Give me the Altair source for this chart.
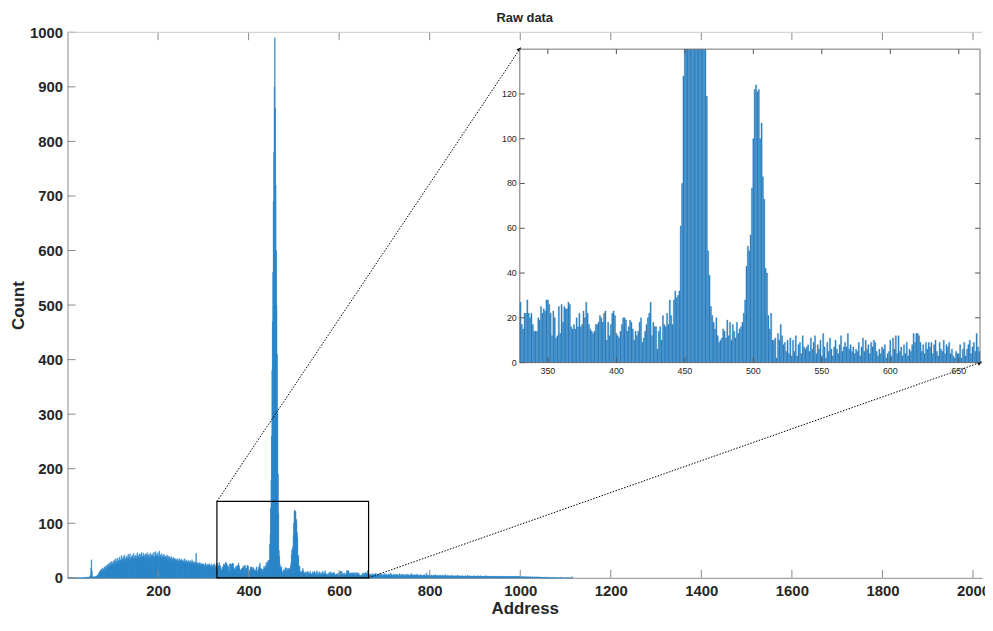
import math
import altair as alt
import pandas as pd

# ---------------- data ----------------
title_text = "Raw data"
x_title = "Address"
y_title = "Count"

counts_low_start = 1
counts_low = [
    0, 0, 0, 0, 0, 0, 0, 0, 0, 0,
    0, 0, 0, 0, 0, 0, 0, 0, 0, 0,
    0, 0, 0, 0, 0, 0, 0, 0, 0, 0,
    0, 0, 0, 0, 0, 1, 0, 0, 1, 0,
    1, 0, 1, 1, 0, 1, 1, 2, 1, 2,
    6, 18, 33, 12, 3, 1, 2, 1, 1, 2,
    1, 2, 3, 2, 4, 3, 5, 6, 8,
]

counts_bump_start = 70
counts_bump = [
    9, 12, 7, 14, 11, 16, 10, 13, 18, 12,
    15, 19, 13, 21, 17, 14, 22, 18, 24, 16,
    20, 26, 19, 23, 28, 21, 25, 30, 22, 27,
    24, 31, 26, 22, 33, 27, 29, 35, 25, 30,
    28, 36, 27, 32, 24, 38, 30, 33, 29, 41,
    31, 35, 27, 39, 33, 30, 42, 34, 28, 37,
    33, 40, 29, 36, 43, 32, 38, 31, 44, 35,
    30, 39, 34, 41, 36, 31, 45, 37, 33, 40,
    35, 42, 38, 32, 46, 36, 41, 34, 39, 44,
    37, 33, 43, 38, 47, 35, 40, 36, 45, 39,
    34, 42, 37, 44, 31, 40, 46, 36, 41, 33,
    43, 38, 35, 45, 39, 32, 41, 44, 37, 40,
    36, 47, 39, 34, 42, 48, 38, 43, 35, 41,
    46, 37, 40, 49, 36, 42, 38, 33, 44, 39,
    35, 41, 37, 43, 32, 38, 40, 34, 39, 36,
    42, 33, 37, 31, 40, 35, 38, 30, 36, 33,
    39, 31, 35, 29, 37, 33, 30, 36, 28, 34,
    32, 27, 35, 30, 33, 26, 31, 36, 29, 32,
    28, 34, 30, 25, 33, 29, 31, 27, 35, 26,
    30, 28, 33, 24, 31, 27, 29, 25, 32, 28,
    26, 31, 24, 29, 27, 33, 25, 28, 23, 30,
    27, 24, 29, 26, 45, 25, 28, 22, 27, 24,
    26, 22, 28, 24, 21, 27, 23, 25, 20, 26,
    22, 25, 19, 24, 21, 27, 20, 23, 18, 25,
    21, 24, 19, 26, 22, 18, 23, 20, 25, 19,
    22, 18, 24, 20, 26, 19, 21, 17, 23, 20,
]

counts_zoom_start = 330
counts_zoom = [
    27, 17, 15, 22, 22, 28, 22, 20, 22, 17,
    14, 14, 14, 20, 19, 25, 22, 24, 23, 28,
    28, 26, 22, 12, 23, 20, 11, 12, 25, 13,
    26, 18, 25, 24, 24, 27, 26, 16, 15, 17,
    15, 20, 16, 22, 16, 17, 23, 20, 27, 22,
    17, 15, 14, 13, 14, 17, 17, 18, 21, 20,
    18, 22, 23, 10, 18, 12, 17, 22, 23, 21,
    13, 12, 11, 14, 17, 20, 20, 19, 14, 16,
    19, 18, 15, 10, 14, 12, 14, 18, 20, 9,
    11, 14, 17, 20, 22, 27, 12, 18, 16, 16,
    6, 14, 16, 10, 21, 17, 16, 22, 17, 28,
    21, 17, 28, 32, 29, 30, 32, 61, 80, 128,
    180, 260, 380, 470, 560, 690, 780, 900, 990, 860,
    720, 600, 500, 410, 300, 190, 119, 50, 39, 25,
    21, 18, 15, 20, 12, 9, 10, 11, 15, 14,
    11, 19, 12, 18, 10, 17, 14, 11, 18, 13,
    15, 16, 18, 22, 28, 43, 52, 50, 57, 78,
    100, 122, 124, 121, 122, 100, 107, 83, 73, 42,
    40, 21, 15, 22, 10, 10, 11, 2, 13, 10,
    17, 12, 8, 9, 5, 10, 4, 11, 3, 10,
    5, 12, 3, 8, 9, 4, 12, 7, 6, 7,
    8, 5, 11, 6, 9, 12, 4, 8, 6, 10,
    3, 13, 7, 2, 9, 5, 11, 6, 3, 7,
    10, 6, 4, 8, 12, 5, 7, 9, 7, 13,
    6, 8, 5, 7, 4, 6, 5, 9, 3, 7,
    11, 5, 10, 6, 8, 4, 9, 7, 10, 9,
    5, 3, 6, 4, 7, 6, 8, 2, 4, 5,
    10, 3, 11, 6, 12, 4, 12, 5, 7, 3,
    8, 4, 9, 3, 6, 5, 8, 13, 9, 13,
    13, 12, 9, 5, 8, 4, 9, 6, 9, 7,
    9, 4, 8, 10, 5, 3, 9, 6, 5, 10,
    4, 8, 7, 9, 4, 6, 3, 2, 5, 4,
    4, 8, 2, 6, 9, 3, 6, 8, 10, 4,
    7, 9, 5, 13, 7, 5,
]

counts_tail_start = 666
counts_tail = [
    4, 6, 3, 7, 5, 2, 6, 4, 8, 3,
    5, 7, 3, 6, 4, 9, 5, 3, 6, 4,
    7, 3, 5, 8, 4, 6, 2, 5, 7, 4,
    3, 6, 5, 4, 8, 3, 5, 6, 2, 7,
    4, 5, 3, 7, 4, 6, 3, 5, 9, 4,
    6, 3, 5, 4, 7, 2, 5, 4, 6, 3,
    5, 7, 3, 4, 6, 4, 2, 5, 8, 3,
    4, 6, 3, 5, 4, 7, 3, 4, 5, 2,
    6, 4, 3, 5, 7, 3, 4, 6, 2, 5,
    3, 5, 4, 8, 3, 4, 6, 2, 5, 4,
    3, 6, 4, 5, 2, 4, 7, 3, 5, 4,
    2, 5, 4, 3, 6, 3, 4, 5, 2, 4,
    5, 3, 4, 6, 2, 4, 3, 9, 4, 3,
    5, 2, 4, 3, 6, 3, 4, 2, 5, 3,
    4, 3, 5, 2, 4, 3, 6, 2, 4, 3,
    3, 5, 2, 4, 3, 4, 2, 5, 3, 4,
    2, 4, 3, 5, 2, 3, 4, 2, 6, 3,
    3, 2, 4, 3, 5, 2, 3, 4, 2, 3,
    4, 2, 3, 5, 2, 3, 2, 4, 3, 2,
    3, 4, 2, 3, 2, 5, 3, 2, 4, 2,
    2, 3, 4, 2, 3, 2, 4, 3, 2, 3,
    3, 2, 3, 4, 2, 3, 2, 3, 5, 2,
    2, 3, 2, 4, 2, 3, 2, 2, 3, 2,
    3, 2, 4, 2, 3, 2, 2, 3, 2, 4,
    2, 3, 2, 2, 3, 2, 4, 2, 2, 3,
    2, 2, 3, 2, 2, 3, 2, 2, 4, 2,
    3, 2, 2, 3, 2, 2, 3, 2, 2, 3,
    2, 2, 3, 2, 2, 2, 3, 2, 2, 2,
    3, 2, 2, 2, 3, 2, 2, 2, 2, 3,
    2, 2, 2, 3, 2, 2, 2, 2, 3, 2,
    2, 2, 2, 2, 3, 2, 2, 2, 2, 2,
    2, 3, 2, 2, 2, 2, 3, 2, 2, 2,
    2, 2, 2, 3, 2, 2, 2, 2, 2, 2,
    2, 2, 3, 2, 2, 2, 1, 2, 2, 1,
    2, 1, 2, 2, 1, 2, 1, 2, 1, 1,
    2, 1, 1, 2, 1, 1, 2, 1, 1, 1,
    1, 2, 1, 1, 1, 2, 1, 1, 1, 1,
    1, 1, 2, 1, 1, 1, 1, 1, 1, 1,
    1, 1, 1, 0, 1, 1, 0, 1, 1, 0,
    1, 0, 1, 1, 0, 0, 1, 0, 0, 1,
    0, 0, 1, 0, 0, 0, 1, 0, 0, 0,
    1, 0, 0, 0, 0, 1, 0, 0, 0, 0,
    0, 0, 0, 0, 1, 0, 0, 0, 0, 0,
    0, 0, 0, 0, 0, 0, 0, 0, 0, 0,
    0, 0, 0, 0, 0, 0, 0, 0, 0, 2,
]

main_x_ticks = [200, 400, 600, 800, 1000, 1200, 1400, 1600, 1800, 2000]
main_y_ticks = [0, 100, 200, 300, 400, 500, 600, 700, 800, 900, 1000]
inset_x_ticks = [350, 400, 450, 500, 550, 600, 650]
inset_y_ticks = [0, 20, 40, 60, 80, 100, 120]
zoom_x = [330, 665]
zoom_y = [0, 140]

# ---------------- layout / style ----------------
W, H = 922, 550
X_MAX, Y_MAX = 2020, 1000
IX0, IX1, IY_TOP, IY_BOT = 456, 920, 17, 333   # inset box inside plot area (px)
FONT = "Liberation Sans"
BLUE = "#2b86c9"
EDGE = "#2372b2"
AXC = "#8a8a8a"
TXT = "#262626"

# ---------------- tables ----------------
rows = []
for start, vals in [(counts_low_start, counts_low), (counts_bump_start, counts_bump),
                    (counts_zoom_start, counts_zoom), (counts_tail_start, counts_tail)]:
    for i, v in enumerate(vals):
        rows.append((start + i, v))
df = pd.DataFrame(rows, columns=["address", "count"])
df["x0"] = df["address"] - 0.5
df["x1"] = df["address"] + 0.5
df["xi0"] = df["address"] - 0.42
df["xi1"] = df["address"] + 0.42
inset_df = df[(df["address"] >= zoom_x[0]) & (df["address"] <= zoom_x[1])]

main_x = alt.Scale(domain=[0, X_MAX], nice=False, zero=False)
main_y = alt.Scale(domain=[0, Y_MAX], nice=False)

def px_x(v):
    return v / X_MAX * W

def px_y(v):
    return H - v / Y_MAX * H

# inset corners expressed in main-axis units
in_tl = (IX0 / W * X_MAX, (H - IY_TOP) / H * Y_MAX)
in_br = (IX1 / W * X_MAX, (H - IY_BOT) / H * Y_MAX)
a1 = (zoom_x[0], zoom_y[1])
a2 = (zoom_x[1], zoom_y[0])

def ang(p, q):
    return math.degrees(math.atan2(px_y(q[1]) - px_y(p[1]), px_x(q[0]) - px_x(p[0]))) % 360

arrow_df = pd.DataFrame({
    "xa": [a1[0], a2[0]], "ya": [a1[1], a2[1]],
    "xb": [in_tl[0], in_br[0]], "yb": [in_tl[1], in_br[1]],
    "ang": [ang(a1, in_tl), ang(a2, in_br)],
})
box_df = pd.DataFrame({"x0": [zoom_x[0]], "x1": [zoom_x[1]], "y0": [zoom_y[0]], "y1": [zoom_y[1]]})
mxt = pd.DataFrame({"t": main_x_ticks})
myt = pd.DataFrame({"t": main_y_ticks})
ixt = pd.DataFrame({"t": inset_x_ticks})
iyt = pd.DataFrame({"t": inset_y_ticks})
one = pd.DataFrame({"a": [0]})

# ---------------- main panel ----------------
main_bars = alt.Chart(df).mark_rect(color=BLUE, stroke=BLUE, strokeWidth=0.6).encode(
    x=alt.X("x0:Q", scale=main_x, axis=alt.Axis(
        values=main_x_ticks, format="d", ticks=False, grid=False, domainColor=AXC, labelFlush=False,
        labelFont=FONT, labelFontSize=15, labelFontWeight="bold", labelColor=TXT, labelPadding=6,
        title=x_title, titleFont=FONT, titleFontSize=17, titleFontWeight="bold", titleColor=TXT,
        titlePadding=2)),
    x2="x1:Q",
    y=alt.Y("count:Q", scale=main_y, axis=alt.Axis(
        values=main_y_ticks, format="d", ticks=False, grid=False, domainColor=AXC, labelFlush=False,
        labelFont=FONT, labelFontSize=15, labelFontWeight="bold", labelColor=TXT, labelPadding=5,
        title=y_title, titleFont=FONT, titleFontSize=17, titleFontWeight="bold", titleColor=TXT,
        titlePadding=2)),
    y2=alt.datum(0),
)
tick_b = alt.Chart(mxt).mark_rule(color=AXC).encode(x=alt.X("t:Q", scale=main_x), y=alt.value(H), y2=alt.value(H - 8))
tick_t = alt.Chart(mxt).mark_rule(color=AXC).encode(x=alt.X("t:Q", scale=main_x), y=alt.value(0), y2=alt.value(8))
tick_l = alt.Chart(myt).mark_rule(color=AXC).encode(y=alt.Y("t:Q", scale=main_y), x=alt.value(0), x2=alt.value(8))
top_line = alt.Chart(one).mark_rule(color="#c8c8c8").encode(x=alt.value(0), x2=alt.value(W), y=alt.value(0))
box = alt.Chart(box_df).mark_rect(fillOpacity=0, stroke="black", strokeWidth=1.2).encode(
    x=alt.X("x0:Q", scale=main_x), x2="x1:Q", y=alt.Y("y0:Q", scale=main_y), y2="y1:Q")
arrows = alt.Chart(arrow_df).mark_rule(color="black", strokeWidth=1, strokeDash=[1.5, 1.5]).encode(
    x=alt.X("xa:Q", scale=main_x), y=alt.Y("ya:Q", scale=main_y), x2="xb:Q", y2="yb:Q")
heads = alt.Chart(arrow_df).mark_point(shape="triangle-right", filled=True, color="black", size=28, opacity=1).encode(
    x=alt.X("xb:Q", scale=main_x), y=alt.Y("yb:Q", scale=main_y), angle=alt.Angle("ang:Q", scale=None))

main = alt.layer(main_bars, tick_b, tick_t, tick_l, top_line, box, arrows, heads)

# ---------------- inset panel ----------------
ix = alt.Scale(domain=[329.5, 665.5], range=[IX0, IX1], nice=False, zero=False)
iy = alt.Scale(domain=[0, 140], range=[IY_BOT, IY_TOP], nice=False, clamp=True)
frame_df = pd.DataFrame({"x0": [329.5], "x1": [665.5], "y0": [0], "y1": [140]})

in_bg = alt.Chart(frame_df).mark_rect(color="white").encode(
    x=alt.X("x0:Q", scale=ix, axis=None), x2="x1:Q", y=alt.Y("y0:Q", scale=iy, axis=None), y2="y1:Q")
in_bars = alt.Chart(inset_df).mark_rect(color=BLUE, stroke=EDGE, strokeWidth=0.35).encode(
    x=alt.X("xi0:Q", scale=ix, axis=None), x2="xi1:Q", y=alt.Y("count:Q", scale=iy, axis=None), y2=alt.datum(0))
in_frame = alt.Chart(frame_df).mark_rect(fillOpacity=0, stroke="#707070", strokeWidth=1).encode(
    x=alt.X("x0:Q", scale=ix), x2="x1:Q", y=alt.Y("y0:Q", scale=iy), y2="y1:Q")
in_tb = alt.Chart(ixt).mark_rule(color="#555").encode(x=alt.X("t:Q", scale=ix), y=alt.value(IY_BOT), y2=alt.value(IY_BOT - 5))
in_tt = alt.Chart(ixt).mark_rule(color="#555").encode(x=alt.X("t:Q", scale=ix), y=alt.value(IY_TOP), y2=alt.value(IY_TOP + 5))
in_tl = alt.Chart(iyt).mark_rule(color="#555").encode(y=alt.Y("t:Q", scale=iy), x=alt.value(IX0), x2=alt.value(IX0 + 5))
in_tr = alt.Chart(iyt).mark_rule(color="#555").encode(y=alt.Y("t:Q", scale=iy), x=alt.value(IX1), x2=alt.value(IX1 - 5))
in_xl = alt.Chart(ixt).mark_text(font=FONT, fontSize=9, color=TXT, baseline="top").encode(
    x=alt.X("t:Q", scale=ix), y=alt.value(IY_BOT + 4), text="t:Q")
in_yl = alt.Chart(iyt).mark_text(font=FONT, fontSize=9, color=TXT, align="right", baseline="middle").encode(
    y=alt.Y("t:Q", scale=iy), x=alt.value(IX0 - 3), text="t:Q")

inset = alt.layer(in_bg, in_bars, in_frame, in_tb, in_tt, in_tl, in_tr, in_xl, in_yl)

chart = alt.layer(main, inset).resolve_scale(x="independent", y="independent").properties(
    width=W, height=H,
    title=alt.TitleParams(title_text, font=FONT, fontSize=13, fontWeight="bold", color=TXT, offset=0, anchor="middle"),
    padding={"left": 60, "top": 22, "right": 3, "bottom": 38},
    autosize=alt.AutoSizeParams(type="none"),
).configure_view(strokeWidth=0)

chart.save("out.html", embed_options={"renderer": "svg", "actions": False})
